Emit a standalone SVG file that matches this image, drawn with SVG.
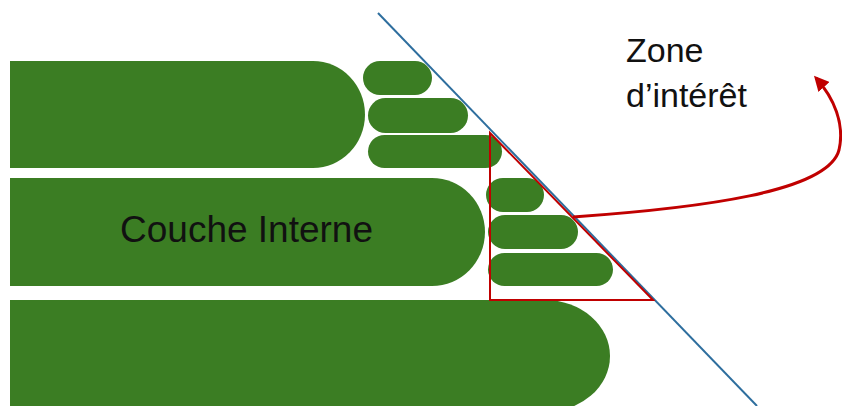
<svg xmlns="http://www.w3.org/2000/svg" width="842" height="406" viewBox="0 0 842 406">
  <defs>
    <style>
      .g { fill: #3b7d23; }
      .lbl { font-family: "Liberation Sans", Arial, sans-serif; fill: #111; }
    </style>
    <marker id="ah" viewBox="0 0 10 10" refX="8" refY="5" markerWidth="5" markerHeight="5" orient="auto" markerUnits="strokeWidth">
      <path d="M0,0 L10,5 L0,10 Z" fill="#c00000"/>
    </marker>
  </defs>
  <rect width="842" height="406" fill="#fff"/>

  <g id="couche-haut">
    <path class="g" d="M10,61 H313 A52,53.5 0 0 1 313,168 H10 Z"/>
  </g>
  <g id="couche-interne">
    <path class="g" d="M10,178 H432 A53,54 0 0 1 432,286 H10 Z"/>
    <text class="lbl" x="120" y="242" font-size="37">Couche Interne</text>
  </g>
  <g id="couche-bas">
    <path class="g" d="M10,300 H545 A65,56 0 0 1 545,412 H10 Z"/>
  </g>
  <g id="pastilles-haut">
    <rect class="g" x="363" y="61" width="69" height="34" rx="17"/>
    <rect class="g" x="368" y="98" width="100" height="35" rx="17.5"/>
    <rect class="g" x="368" y="135" width="134" height="33" rx="16.5"/>
  </g>
  <g id="pastilles-milieu">
    <rect class="g" x="486" y="178" width="58" height="34" rx="17"/>
    <rect class="g" x="488" y="215" width="90" height="34" rx="17"/>
    <rect class="g" x="488" y="253" width="125" height="33" rx="16.5"/>
  </g>
  <g id="zone-label">
    <text class="lbl" x="626" y="62" font-size="34">Zone</text>
    <text class="lbl" x="626" y="107" font-size="34">d’intérêt</text>
  </g>

  <g id="connectors">
    <line x1="378" y1="13" x2="757" y2="406" stroke="#2e6e9e" stroke-width="2"/>
    <polygon points="490,133 490,300 653,300" fill="none" stroke="#c00000" stroke-width="2"/>
    <path d="M573,217 C700,208 828,192 839,150 C845,124 834,98 816,78" fill="none" stroke="#c00000" stroke-width="3" marker-end="url(#ah)"/>
  </g>
</svg>
